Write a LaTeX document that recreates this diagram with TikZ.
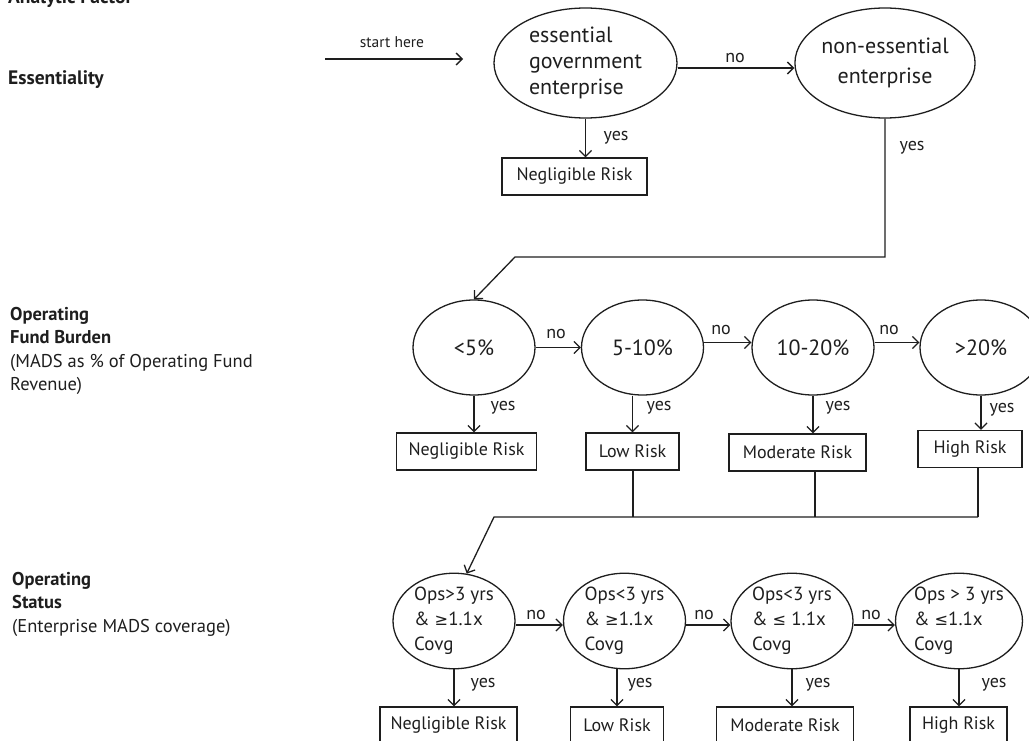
\documentclass[tikz,border=0pt]{standalone}
\usepackage{fontspec}
\setmainfont{PT Sans}
\newfontfamily\symf{DejaVu Sans}[Scale=0.85]
\usetikzlibrary{shapes.geometric,arrows.meta}
\definecolor{ink}{HTML}{1E1E1E}
\newcommand{\gesym}{{\symf ≥}}
\newcommand{\lesym}{{\symf ≤}}
\begin{document}
\begin{tikzpicture}[x=1pt,y=-1pt,
  every node/.style={text=ink},
  line/.style={draw=ink,line width=1.3pt},
  arr/.style={line,-{Straight Barb[length=6pt,width=12pt]}},
  ell/.style={ellipse,draw=ink,line width=1.3pt,inner sep=0pt},
  topell/.style={ell,minimum height=110pt,font=\fontsize{22pt}{26pt}\selectfont},
  pctell/.style={ell,minimum width=122pt,minimum height=95pt,font=\fontsize{22pt}{26pt}\selectfont},
  opsell/.style={ell,minimum width=122pt,minimum height=92pt,align=left,font=\fontsize{19pt}{25pt}\selectfont},
  rbox/.style={draw=ink,line width=1.3pt,minimum height=37pt,inner sep=0pt,font=\fontsize{18pt}{20pt}\selectfont},
  lbl/.style={inner sep=0pt,font=\fontsize{18pt}{20pt}\selectfont},
  factor/.style={inner sep=0pt,anchor=base west,font=\fontsize{19.5pt}{23pt}\selectfont\bfseries},
  side/.style={inner sep=0pt,anchor=north west,align=left,font=\fontsize{18.5pt}{23.5pt}\selectfont}
]
\useasboundingbox (0,0) rectangle (1029,741);

% ---------- left column ----------
\node[factor] (af) at (8,4) {Analytic Factor};
\node[factor] (ess) at (8,85) {Essentiality};
\node[side] (burden) at (10,307) {\textbf{Operating}\\\textbf{Fund Burden}\\(MADS as \% of Operating Fund\\Revenue)};
\node[side] (status) at (12,572) {\textbf{Operating}\\\textbf{Status}\\(Enterprise MADS coverage)};

% ---------- essentiality ----------
\coordinate (s0) at (325,59);
\coordinate (s1) at (463,59);
\draw[arr] (s0) -- (s1);
\node[inner sep=0pt,font=\fontsize{15.5pt}{18pt}\selectfont] (start) at (392,42) {start here};

\node[topell,minimum width=183pt,align=left] (e1) at (585.5,63) {essential\\government\\enterprise};
\node[topell,minimum width=178pt,align=center,font=\fontsize{22pt}{30pt}\selectfont] (e2) at (885,63) {non-essential\\enterprise};
\node[rbox,minimum width=145pt] (n1) at (574.5,176.5) {Negligible Risk};

\draw[arr] ([yshift=-5pt]e1.east) -- ([yshift=-5pt]e2.west);
\node[lbl] (no0) at (735,58) {no};
\draw[arr] (e1.south) -- (e1.south |- n1.north);
\node[lbl] (yes0) at (616,138) {yes};

\coordinate (c1) at (885,257);
\coordinate (c2) at (515,257);
\node[lbl] (yes00) at (912,148) {yes};

% ---------- operating fund burden ----------
\node[pctell] (b1) at (474,347.5) {<5\%};
\node[pctell] (b2) at (642.5,347.5) {5-10\%};
\node[pctell] (b3) at (813,347.5) {10-20\%};
\node[pctell] (b4) at (981,347.5) {>20\%};

\draw[arr] (e2.south) -- (c1) -- (c2) -- (b1.north);

\node[rbox,minimum width=140pt] (r1) at (466.5,451.5) {Negligible Risk};
\node[rbox,minimum width=93pt] (r2) at (632.5,451.5) {Low Risk};
\node[rbox,minimum width=137pt] (r3) at (797.5,452.5) {Moderate Risk};
\node[rbox,minimum width=104pt] (r4) at (970,449) {High Risk};

\draw[arr] (b1.east) -- (b2.west);
\draw[arr] ([yshift=5pt]b2.east) -- ([yshift=5pt]b3.west);
\draw[arr] ([yshift=5pt]b3.east) -- ([yshift=5pt]b4.west);
\node[lbl] (no1) at (556,334) {no};
\node[lbl] (no2) at (721,330) {no};
\node[lbl] (no3) at (889,330) {no};

\draw[arr] (b1.south) -- (b1.south |- r1.north);
\draw[arr] (r2.north |- b2.south) -- (r2.north);
\draw[arr] (b3.south) -- (b3.south |- r3.north);
\draw[arr] (b4.south) -- (b4.south |- r4.north);
\node[lbl] (yes1) at (503,408) {yes};
\node[lbl] (yes2) at (659,408) {yes};
\node[lbl] (yes3) at (838,408) {yes};
\node[lbl] (yes4) at (1002,410) {yes};

% ---------- operating status ----------
\node[opsell] (o1) at (454,621) {Ops>3 yrs\\\& \gesym1.1x\\Covg};
\node[opsell] (o2) at (624.5,621) {Ops<3 yrs\\\& \gesym1.1x\\Covg};
\node[opsell] (o3) at (792,621) {Ops<3 yrs\\\& \lesym\ 1.1x\\Covg};
\node[opsell] (o4) at (959,621) {Ops > 3 yrs\\\& \lesym1.1x\\Covg};

\coordinate (j) at (494,517);
\coordinate (j2) at (633,517);
\coordinate (j3) at (815,517);
\coordinate (j4) at (978,517);
\draw[line] (r2.south -| j2) -- (j2);
\draw[line] (r3.south -| j3) -- (j3);
\draw[line] (r4.south -| j4) -- (j4);
\draw[arr] (j4) -- (j) -- (o1.75);

\node[rbox,minimum width=137pt] (q1) at (448.5,725.5) {Negligible Risk};
\node[rbox,minimum width=93pt] (q2) at (617,725.5) {Low Risk};
\node[rbox,minimum width=137pt] (q3) at (785,725.5) {Moderate Risk};
\node[rbox,minimum width=97pt] (q4) at (958.5,725.5) {High Risk};

\draw[arr] ([yshift=-4pt]o1.east) -- ([yshift=-4pt]o2.west);
\draw[arr] ([yshift=-4pt]o2.east) -- ([yshift=-4pt]o3.west);
\draw[arr] ([yshift=-4pt]o3.east) -- ([yshift=-4pt]o4.west);
\node[lbl] (no4) at (536,615) {no};
\node[lbl] (no5) at (704,615) {no};
\node[lbl] (no6) at (871,615) {no};

\draw[arr] (o1.south) -- (o1.south |- q1.north);
\draw[arr] (q2.north |- o2.south) -- (q2.north);
\draw[arr] (o3.south) -- (o3.south |- q3.north);
\draw[arr] (o4.south) -- (o4.south |- q4.north);
\node[lbl] (yes5) at (483,685) {yes};
\node[lbl] (yes6) at (640,685) {yes};
\node[lbl] (yes7) at (818,685) {yes};
\node[lbl] (yes8) at (994,685) {yes};
\end{tikzpicture}
\end{document}
